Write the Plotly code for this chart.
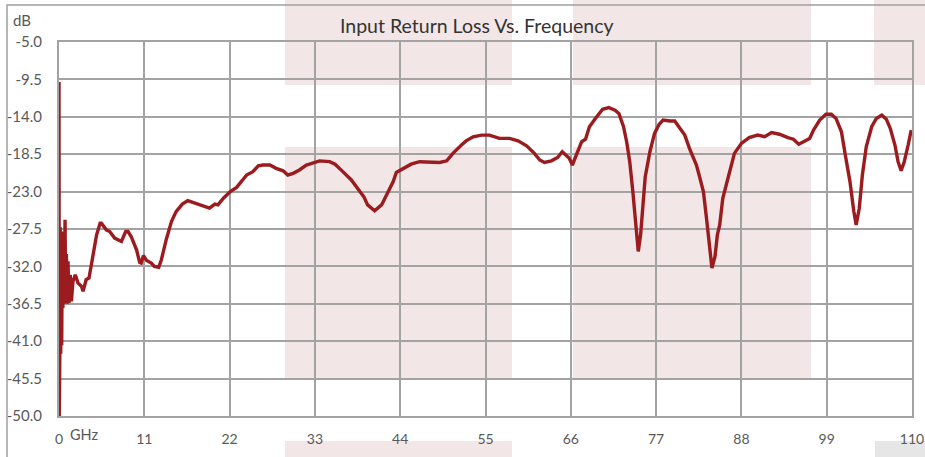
import plotly.graph_objects as go

# ---------------- data ----------------
freq_ghz = [
    0.00, 0.03, 0.10, 0.15, 0.22, 0.28, 0.35, 0.42, 0.50, 0.60, 0.68, 0.78, 0.85, 0.95, 1.05,
    1.16, 1.29, 1.45, 1.60, 1.80, 2.10, 2.45, 2.90, 3.10, 3.50, 3.87, 4.18, 4.60, 4.85, 5.30,
    5.47, 6.10, 6.54, 7.18, 8.05, 8.60, 8.90, 9.30, 10.0, 10.4, 10.6, 10.9, 11.3, 11.9, 12.3,
    12.86, 13.2, 13.85, 14.5, 15.1, 15.9, 16.6, 17.6, 18.6, 19.4, 20.1, 20.5, 21.2, 22.1, 22.9,
    23.5, 24.2, 25.0, 25.7, 26.3, 27.2, 28.0, 28.9, 29.5, 30.2, 31.0, 31.9, 32.3, 33.6, 34.9,
    35.6, 36.6, 37.7, 38.8, 39.3, 39.8, 40.7, 41.6, 42.4, 43.1, 43.5, 44.4, 45.4, 46.5, 47.8,
    49.1, 50.0, 50.8, 51.9, 52.5, 53.4, 54.5, 55.5, 56.8, 58.1, 59.2, 60.3, 61.3, 62.0, 62.6,
    63.5, 64.3, 64.9, 65.4, 65.8, 66.2, 66.7, 67.4, 67.9, 68.4, 69.1, 69.6, 70.1, 70.9, 71.7,
    72.2, 72.8, 73.2, 73.6, 74.0, 74.4, 74.7, 75.0, 75.3, 75.6, 76.2, 76.8, 77.4, 77.9, 78.8,
    79.4, 80.0, 80.7, 81.3, 82.2, 82.6, 83.1, 83.5, 83.9, 84.2, 84.6, 84.9, 85.2, 85.6, 86.1,
    86.6, 87.1, 88.0, 89.0, 90.1, 91.0, 91.9, 92.9, 94.0, 94.7, 95.4, 96.2, 96.8, 97.3, 98.1,
    98.9, 99.6, 100.2, 100.9, 101.4, 102.0, 102.5, 102.8, 103.2, 103.6, 104.1, 104.8, 105.4, 106.1, 106.7,
    107.2, 107.8, 108.2, 108.6, 109.0, 109.5, 109.9,
]
return_loss_db = [
    -9.8, -50.0, -43.0, -27.3, -42.5, -28.0, -41.5, -27.8, -37.0, -29.0, -36.5, -26.4, -35.0, -30.5, -36.5,
    -31.4, -36.4, -33.0, -36.2, -33.8, -33.0, -34.0, -34.4, -35.0, -33.6, -33.4, -31.8, -30.0, -28.2, -26.8,
    -26.8, -27.6, -27.8, -28.6, -29.0, -27.8, -27.8, -28.4, -30.0, -31.5, -31.6, -30.7, -31.3, -31.6, -32.0,
    -32.1, -31.2, -28.7, -26.6, -25.4, -24.5, -24.1, -24.4, -24.7, -25.0, -24.5, -24.6, -23.8, -23.0, -22.5,
    -21.8, -21.0, -20.6, -19.9, -19.8, -19.8, -20.2, -20.5, -21.0, -20.8, -20.4, -19.8, -19.7, -19.3, -19.4,
    -19.7, -20.6, -21.6, -23.0, -23.6, -24.6, -25.3, -24.6, -23.0, -21.8, -20.7, -20.2, -19.7, -19.4, -19.4,
    -19.5, -19.3, -18.4, -17.4, -16.9, -16.4, -16.2, -16.2, -16.6, -16.6, -16.9, -17.5, -18.4, -19.2, -19.5,
    -19.3, -18.9, -18.2, -18.6, -19.0, -19.8, -18.6, -17.0, -16.7, -15.2, -14.3, -13.7, -13.1, -12.9, -13.2,
    -13.6, -15.2, -17.0, -19.4, -23.0, -26.6, -30.2, -28.2, -24.2, -21.2, -18.2, -16.0, -14.9, -14.4, -14.5,
    -14.5, -15.3, -16.2, -17.8, -19.8, -21.2, -23.0, -26.2, -30.2, -32.2, -30.8, -28.2, -27.0, -23.8, -22.0,
    -20.2, -18.4, -17.2, -16.5, -16.2, -16.4, -15.9, -16.1, -16.5, -16.7, -17.3, -16.9, -16.6, -15.6, -14.4,
    -13.7, -13.7, -14.2, -15.8, -18.6, -21.8, -25.4, -27.0, -25.0, -21.0, -17.6, -15.2, -14.2, -13.8, -14.3,
    -15.4, -17.4, -19.4, -20.5, -19.4, -17.4, -15.6,
]
x_ticks = [0, 11, 22, 33, 44, 55, 66, 77, 88, 99, 110]
x_tick_labels = ["0", "11", "22", "33", "44", "55", "66", "77", "88", "99", "110"]
y_ticks = [-5.0, -9.5, -14.0, -18.5, -23.0, -27.5, -32.0, -36.5, -41.0, -45.5, -50.0]
y_tick_labels = [f"{v:.1f}" for v in y_ticks]

# ---------------- layout geometry ----------------
W, H = 925, 457
ML, MR, MT, MB = 59, 13, 42, 41
PW, PH = W - ML - MR, H - MT - MB


def px(x):
    return (x - ML) / PW


def py(y):
    return (H - MB - y) / PH


FONT = "Lato, 'Open Sans', sans-serif"
TICK_COLOR = "#595959"
GRID = "#a3a3a3"
PINK = "#f3e6e6"

fig = go.Figure()
fig.add_trace(go.Scatter(
    x=freq_ghz, y=return_loss_db, mode="lines",
    line=dict(color="#9b1b1f", width=3.4),
    hoverinfo="x+y", showlegend=False, cliponaxis=False,
))

# decorative background blocks (pixel boxes: x0, y0, x1, y1, colour)
blocks = [
    (285, -2, 512, 85, PINK), (285, 147, 512, 380, PINK), (285, 441, 512, 460, PINK),
    (573, -2, 811, 85, PINK), (573, 147, 811, 380, PINK),
    (874, -2, 930, 85, PINK), (875, 441, 930, 460, "#e6e6e6"),
]
shapes = []
for x0, y0, x1, y1, col in blocks:
    shapes.append(dict(type="rect", xref="paper", yref="paper",
                       x0=px(x0), x1=px(x1), y0=py(y1), y1=py(y0),
                       fillcolor=col, line=dict(width=0), layer="below"))
# outer frame of the chart
shapes.append(dict(type="rect", xref="paper", yref="paper",
                   x0=px(7), x1=px(940), y0=py(470), y1=py(5),
                   fillcolor="rgba(0,0,0,0)", line=dict(color="#a0a0a0", width=1.5),
                   layer="above"))

annotations = [
    dict(text="Input Return Loss Vs. Frequency", xref="paper", yref="paper",
         x=px(477), y=py(25), showarrow=False, xanchor="center", yanchor="middle",
         font=dict(family=FONT, size=19.5, color="#333333")),
    dict(text="dB", xref="paper", yref="paper", x=px(22), y=py(19.5),
         showarrow=False, xanchor="center", yanchor="middle",
         font=dict(family=FONT, size=15, color=TICK_COLOR)),
    dict(text="GHz", xref="paper", yref="paper", x=px(84.5), y=py(434),
         showarrow=False, xanchor="center", yanchor="middle",
         font=dict(family=FONT, size=14.5, color=TICK_COLOR)),
]

fig.update_layout(
    width=W, height=H,
    margin=dict(l=ML, r=MR, t=MT, b=MB, pad=0, autoexpand=False),
    paper_bgcolor="white", plot_bgcolor="white",
    shapes=shapes, annotations=annotations,
    font=dict(family=FONT, size=15, color=TICK_COLOR),
    xaxis=dict(range=[0, 110], tickvals=x_ticks, ticktext=x_tick_labels,
               showgrid=True, gridcolor=GRID, gridwidth=2,
               showline=True, linecolor=GRID, linewidth=2, mirror=True,
               ticks="", ticklabelstandoff=9, zeroline=False, fixedrange=True,
               automargin=False,
               tickfont=dict(family=FONT, size=14, color=TICK_COLOR)),
    yaxis=dict(range=[-50, -5], tickvals=y_ticks, ticktext=y_tick_labels,
               showgrid=True, gridcolor=GRID, gridwidth=2,
               showline=True, linecolor=GRID, linewidth=2, mirror=True,
               ticks="", ticklabelstandoff=12, zeroline=False, fixedrange=True,
               automargin=False,
               tickfont=dict(family=FONT, size=15, color=TICK_COLOR)),
)

fig.write_html(
    "out.html",
    config={"displayModeBar": False},
    post_script="document.body.style.margin='0px';document.body.style.overflow='hidden';",
)
